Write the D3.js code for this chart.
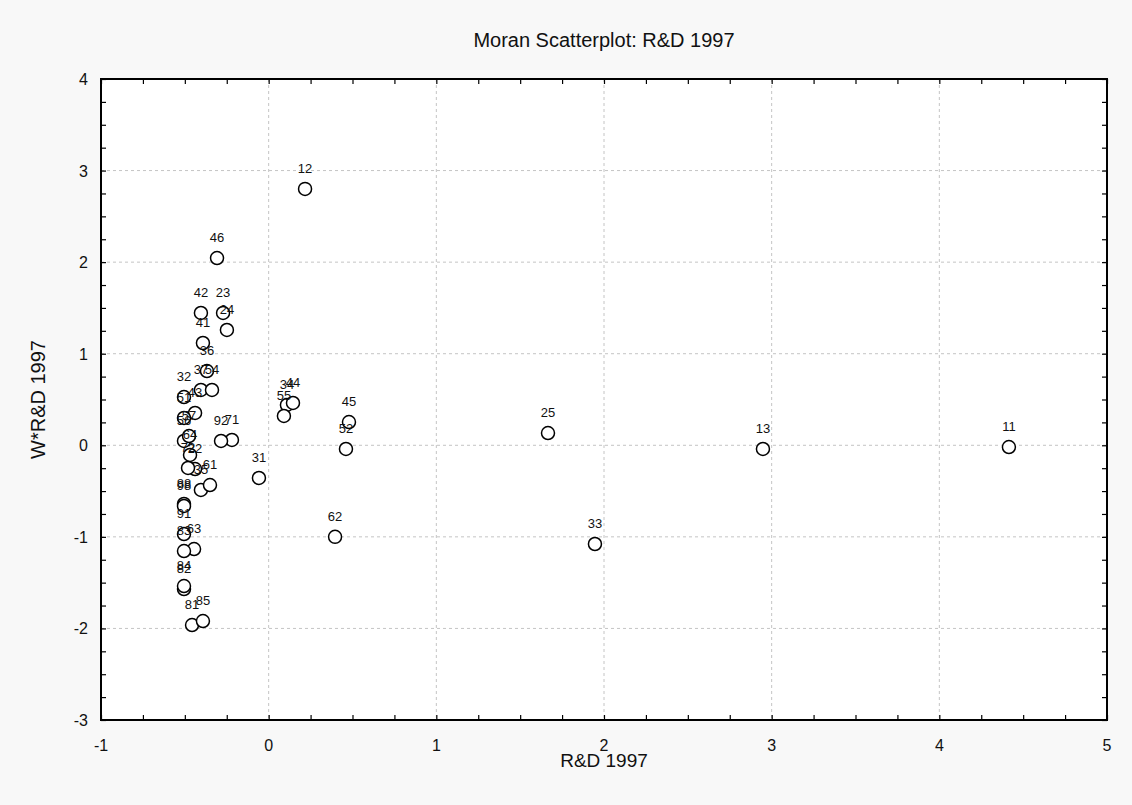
<!DOCTYPE html>
<html>
<head>
<meta charset="utf-8">
<title>Moran Scatterplot: R&amp;D 1997</title>
<script src="https://d3js.org/d3.v7.min.js"></script>
<style>
body { margin: 0; background: #f8f8f8; }
svg { display: block; font-family: "Liberation Sans", Arial, sans-serif; }
.grid line { stroke: #c4c4c4; stroke-dasharray: 3,3; }
.tick-label { font-size: 16px; fill: #111; }
.pt { fill: #fff; stroke: #000; stroke-width: 1.5; }
.pt-label { font-size: 13px; fill: #111; text-anchor: middle; }
</style>
</head>
<body>
<script>
// region codes
var labels = ["11","12","13","22","23","24","25","31","32","33","34","35","36","37",
              "41","42","43","44","45","46","51","52","54","55","56","57",
              "61","62","63","64","71","72","81","82","83","84","85","88","91","92","98"];
// R&D 1997 (standardised)
var xValues = [4.415,0.217,2.948,-0.439,-0.272,-0.249,1.666,-0.058,-0.505,1.946,0.109,-0.404,-0.368,-0.404,
               -0.392,-0.404,-0.439,0.145,0.479,-0.308,-0.505,0.461,-0.338,0.091,-0.505,-0.475,
               -0.350,0.396,-0.445,-0.469,-0.219,-0.481,-0.457,-0.505,-0.505,-0.505,-0.392,-0.505,-0.505,-0.284,-0.505];
// spatial lag W*R&D 1997
var yValues = [-0.019,2.800,-0.040,-0.259,1.445,1.259,0.134,-0.357,0.527,-1.078,0.440,-0.488,0.811,0.604,
               1.117,1.445,0.353,0.462,0.254,2.045,0.298,-0.040,0.604,0.320,0.047,0.101,
               -0.434,-1.000,-1.133,-0.106,0.058,-0.248,-1.963,-1.570,-1.155,-1.537,-1.919,-0.641,-0.969,0.047,-0.663];
var xTicks = [-1,0,1,2,3,4,5];
var yTicks = [-3,-2,-1,0,1,2,3,4];

var width = 1132, height = 805;
var plotL = 101, plotR = 1107, plotT = 79, plotB = 720;

var svg = d3.select("body").append("svg")
    .attr("width", width)
    .attr("height", height);

var x = d3.scaleLinear().domain([-1, 5]).range([plotL, plotR]);
var y = d3.scaleLinear().domain([-3, 4]).range([plotB, plotT]);

svg.append("rect")
    .attr("x", plotL).attr("y", plotT)
    .attr("width", plotR - plotL).attr("height", plotB - plotT)
    .attr("fill", "#fff");

// dashed grid at major ticks
var grid = svg.append("g").attr("class", "grid");
grid.selectAll("line.vx")
    .data(xTicks.slice(1, -1))
  .enter().append("line")
    .attr("x1", d => x(d)).attr("x2", d => x(d))
    .attr("y1", plotT).attr("y2", plotB);
grid.selectAll("line.hy")
    .data(yTicks.slice(1, -1))
  .enter().append("line")
    .attr("x1", plotL).attr("x2", plotR)
    .attr("y1", d => y(d)).attr("y2", d => y(d));

// inward ticks on all four sides, quarter steps
var xMinor = d3.range(-1, 5.001, 0.25);
var yMinor = d3.range(-3, 4.001, 0.25);
var tl = 5;
svg.append("g").attr("transform", "translate(0," + plotB + ")")
    .call(d3.axisTop(x).tickValues(xMinor).tickSize(tl).tickFormat(""));
svg.append("g").attr("transform", "translate(0," + plotT + ")")
    .call(d3.axisBottom(x).tickValues(xMinor).tickSize(tl).tickFormat(""));
svg.append("g").attr("transform", "translate(" + plotL + ",0)")
    .call(d3.axisRight(y).tickValues(yMinor).tickSize(tl).tickFormat(""));
svg.append("g").attr("transform", "translate(" + plotR + ",0)")
    .call(d3.axisLeft(y).tickValues(yMinor).tickSize(tl).tickFormat(""));
svg.selectAll(".domain").remove();
svg.selectAll(".tick line").attr("stroke", "#000").attr("stroke-width", 1.2);

svg.append("rect")
    .attr("x", plotL).attr("y", plotT)
    .attr("width", plotR - plotL).attr("height", plotB - plotT)
    .attr("fill", "none").attr("stroke", "#000").attr("stroke-width", 2);

// tick labels
svg.selectAll("text.xt")
    .data(xTicks)
  .enter().append("text")
    .attr("class", "tick-label")
    .attr("x", d => x(d)).attr("y", plotB + 31)
    .attr("text-anchor", "middle")
    .text(d => d);
svg.selectAll("text.yt")
    .data(yTicks)
  .enter().append("text")
    .attr("class", "tick-label")
    .attr("x", plotL - 13).attr("y", d => y(d) + 6)
    .attr("text-anchor", "end")
    .text(d => d);

// titles
svg.append("text")
    .attr("x", (plotL + plotR) / 2).attr("y", 47)
    .attr("text-anchor", "middle")
    .style("font-size", "20px").attr("fill", "#111")
    .text("Moran Scatterplot: R&D 1997");
svg.append("text")
    .attr("x", (plotL + plotR) / 2).attr("y", 767)
    .attr("text-anchor", "middle")
    .style("font-size", "19px").attr("fill", "#111")
    .text("R&D 1997");
svg.append("text")
    .attr("transform", "translate(45," + ((plotT + plotB) / 2) + ") rotate(-90)")
    .attr("text-anchor", "middle")
    .style("font-size", "20px").attr("fill", "#111")
    .text("W*R&D 1997");

// points
var pts = labels.map((d, i) => ({ label: d, x: xValues[i], y: yValues[i] }));
var layer = svg.append("g");
layer.selectAll("circle.pt")
    .data(pts)
  .enter().append("circle")
    .attr("class", "pt")
    .attr("cx", d => x(d.x)).attr("cy", d => y(d.y))
    .attr("r", 6.5);
layer.selectAll("text.pt-label")
    .data(pts)
  .enter().append("text")
    .attr("class", "pt-label")
    .attr("x", d => x(d.x)).attr("y", d => y(d.y) - 16)
    .text(d => d.label);
</script>
</body>
</html>
